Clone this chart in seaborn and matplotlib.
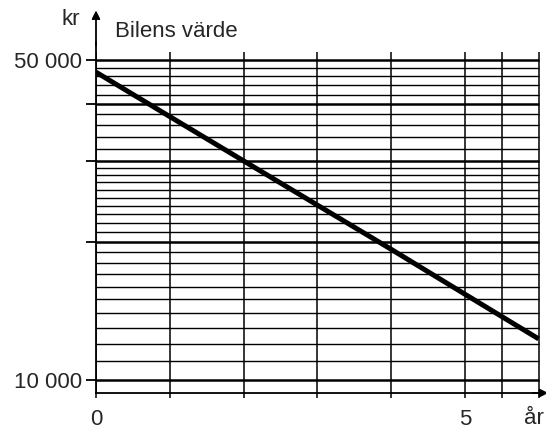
import matplotlib
matplotlib.use("Agg")
import matplotlib.pyplot as plt
import seaborn as sns
from matplotlib.ticker import NullLocator, NullFormatter

# car value over the years (kr), log-scale paper
years = [0, 1, 2, 3, 4, 5, 6]
value = [47000, 37600, 30100, 24100, 19300, 15400, 12300]

x_grid = [0, 1, 2, 3, 4, 5, 5.5, 6]
x_labels = ["0", "", "", "", "", "5", "", ""]

y_major = [10000, 20000, 30000, 40000, 50000]
y_labels = ["10 000", "", "", "", "50 000"]
y_minor = [11000, 12000, 13000, 14000, 15000, 16000, 17000, 18000, 19000,
           21000, 22000, 23000, 24000, 25000, 26000, 27000, 28000, 29000,
           32000, 34000, 36000, 38000, 42000, 44000, 46000, 48000]

sns.set_style("white")
plt.rcParams["font.family"] = ["Liberation Sans", "DejaVu Sans"]

fig = plt.figure(figsize=(5.46, 4.30), dpi=100)
ax = fig.add_axes([96 / 546, 1 - 393 / 430, 450 / 546, 351 / 430])

ax.set_yscale("log")
ax.set_xlim(0, 6.1)
ax.set_ylim(9370, 54700)

# graph paper
ax.hlines(y_minor, 0, 6, color="black", lw=1.0, zorder=1)
ax.hlines(y_major, 0, 6, color="black", lw=1.8, zorder=1)
ax.vlines(x_grid, 9370, 52000, color="black", lw=1.1, zorder=1)

sns.lineplot(x=years, y=value, color="black", lw=3.6, ax=ax,
             solid_capstyle="butt", zorder=3)

ax.set_xticks(x_grid)
ax.set_xticklabels(x_labels, fontsize=16)
ax.set_yticks(y_major)
ax.set_yticklabels(y_labels, fontsize=16)
ax.yaxis.set_minor_locator(NullLocator())
ax.yaxis.set_minor_formatter(NullFormatter())
ax.tick_params(axis="y", direction="out", length=7, width=1.3, pad=3,
               left=True, color="black")
ax.tick_params(axis="x", direction="out", length=3.6, width=1.1, pad=8,
               bottom=True, color="black")

for side in ["top", "right"]:
    ax.spines[side].set_visible(False)
for side in ["left", "bottom"]:
    ax.spines[side].set_color("black")
    ax.spines[side].set_linewidth(1.3)

# axis arrows
ax.annotate("", xy=(0, 1.09), xytext=(0, 0.99), xycoords="axes fraction",
            arrowprops=dict(arrowstyle="-|>", lw=1.3, color="black",
                            mutation_scale=12, shrinkA=0, shrinkB=0))
ax.annotate("", xy=(1.005, 0), xytext=(0.97, 0), xycoords="axes fraction",
            arrowprops=dict(arrowstyle="-|>", lw=1.3, color="black",
                            mutation_scale=12, shrinkA=0, shrinkB=0))

ax.text(-0.056, 1.063, "kr", transform=ax.transAxes, fontsize=16,
        ha="center", va="center")
ax.text(0.042, 1.031, "Bilens värde", transform=ax.transAxes, fontsize=16,
        ha="left", va="center")
ax.text(0.996, -0.074, "år", transform=ax.transAxes, fontsize=16,
        ha="right", va="center")

fig.savefig("out.png", dpi=100)
